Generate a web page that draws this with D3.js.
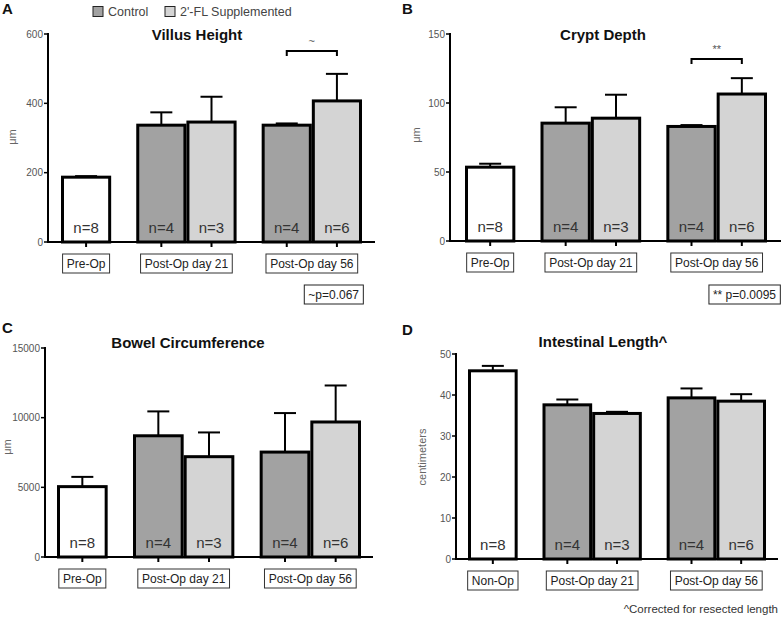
<!DOCTYPE html>
<html><head><meta charset="utf-8">
<script src="https://cdn.jsdelivr.net/npm/d3@7"></script>
<style>body{margin:0;background:#fff}svg{display:block;font-family:"Liberation Sans",Arial,sans-serif}</style>
</head><body><svg id="c" width="781" height="617"></svg>
<script>
const groupsPre = ["Pre-Op", "Post-Op day 21", "Post-Op day 56"];
const groupsNon = ["Non-Op", "Post-Op day 21", "Post-Op day 56"];
const legendLabels = ["Control", "2'-FL Supplemented"];
const barSeries = ["baseline", "control", "fl", "control", "fl"];
const barGroup = [0, 1, 1, 2, 2];
const nLabels = ["n=8", "n=4", "n=3", "n=4", "n=6"];

const villusMean = [187, 337, 346, 337, 407];
const villusSem = [3, 37, 73, 5, 78];
const villusTicks = [0, 200, 400, 600];

const cryptMean = [53.5, 85.4, 89, 83, 106.5];
const cryptSem = [2.5, 11.5, 17, 1, 11.5];
const cryptTicks = [0, 50, 100, 150];

const circMean = [5050, 8700, 7200, 7530, 9690];
const circSem = [700, 1750, 1740, 2800, 2620];
const circTicks = [0, 5000, 10000, 15000];

const lengthMean = [45.9, 37.6, 35.5, 39.3, 38.5];
const lengthSem = [1.2, 1.3, 0.4, 2.3, 1.7];
const lengthTicks = [0, 10, 20, 30, 40, 50];

const colors = {baseline: "#ffffff", control: "#a2a2a2", fl: "#d4d4d4"};
const slotStart = [0, 1.5, 2.5, 4, 5];

const svg = d3.select("#c");

function panel(o) {
  const g = svg.append("g");
  const y = d3.scaleLinear().domain([0, o.max]).range([o.y0, o.yTop]);
  const x = d3.scaleLinear().domain([0, 6]).range([o.bx0, o.bx1]);
  const unit = x(1) - x(0);
  // y axis
  g.append("line").attr("x1", o.ax).attr("x2", o.ax).attr("y1", y(o.max) - 1).attr("y2", o.y0 + 1)
    .attr("stroke", "#000").attr("stroke-width", 2);
  o.ticks.forEach(t => {
    g.append("line").attr("x1", o.ax - 4).attr("x2", o.ax).attr("y1", y(t)).attr("y2", y(t)).attr("stroke", "#000").attr("stroke-width", 1.5);
    g.append("text").attr("x", o.ax - 5).attr("y", y(t) + 3.5).attr("text-anchor", "end")
      .attr("font-size", 10).attr("fill", "#555").text(t);
  });
  // y label
  g.append("text").attr("transform", `translate(${o.ylx},${o.yly}) rotate(-90)`).attr("text-anchor", "middle")
    .attr("font-size", 11).attr("fill", "#666").text(o.ylabel);
  // bars
  o.mean.forEach((m, i) => {
    const cx = x(slotStart[i] + 0.5);
    g.append("line").attr("x1", cx).attr("x2", cx).attr("y1", y(m)).attr("y2", y(m + o.sem[i])).attr("stroke", "#000").attr("stroke-width", 2);
    g.append("line").attr("x1", cx - 11).attr("x2", cx + 11).attr("y1", y(m + o.sem[i])).attr("y2", y(m + o.sem[i])).attr("stroke", "#000").attr("stroke-width", 2);
  });
  o.mean.forEach((m, i) => {
    g.append("rect").attr("x", x(slotStart[i]) + 1.5).attr("width", unit - 3)
      .attr("y", y(m)).attr("height", y(0) - y(m))
      .attr("fill", colors[barSeries[i]]).attr("stroke", "#000").attr("stroke-width", 3);
    g.append("text").attr("x", x(slotStart[i] + 0.5)).attr("y", o.y0 - 9).attr("text-anchor", "middle")
      .attr("font-size", 15).attr("fill", "#333").text(nLabels[i]);
  });
  // x axis
  g.append("line").attr("x1", o.ax - 1).attr("x2", o.axEnd).attr("y1", o.y0).attr("y2", o.y0).attr("stroke", "#000").attr("stroke-width", 2);
  o.mean.forEach((m, i) => {
    const cx = x(slotStart[i] + 0.5);
    g.append("line").attr("x1", cx).attr("x2", cx).attr("y1", o.y0).attr("y2", o.y0 + 5).attr("stroke", "#000").attr("stroke-width", 2);
  });
  // group labels
  o.groups.forEach((lab, gi) => {
    const idx = barGroup.map((b, i) => b === gi ? i : -1).filter(i => i >= 0);
    const left = x(slotStart[idx[0]]), right = x(slotStart[idx[idx.length - 1]] + 1);
    const cx = (left + right) / 2;
    const t = g.append("text").attr("x", cx).attr("y", o.y0 + 26).attr("text-anchor", "middle")
      .attr("font-size", 12).attr("fill", "#222").text(lab);
    const bb = t.node().getBBox();
    g.insert("rect", "text:last-child").attr("x", cx - bb.width / 2 - 4).attr("y", o.y0 + 12).attr("width", bb.width + 8).attr("height", 19)
      .attr("fill", "#fff").attr("stroke", "#333").attr("stroke-width", 1);
    t.raise();
  });
  // title
  g.append("text").attr("x", o.tx).attr("y", o.ty).attr("text-anchor", "middle").attr("font-size", 15)
    .attr("font-weight", "bold").attr("fill", "#111").text(o.title);
  g.append("text").attr("x", o.lx).attr("y", o.ly).attr("font-size", 15).attr("font-weight", "bold").attr("fill", "#111").text(o.letter);
  // significance
  if (o.sig) {
    const x1 = x(slotStart[3] + 0.5), x2 = x(slotStart[4] + 0.5), sy = o.sig.y;
    g.append("path").attr("d", `M${x1},${sy + 5}V${sy}H${x2}V${sy + 5}`).attr("fill", "none").attr("stroke", "#000").attr("stroke-width", 2);
    g.append("text").attr("x", (x1 + x2) / 2).attr("y", sy - 6).attr("text-anchor", "middle").attr("font-size", 11).attr("fill", "#555").text(o.sig.mark);
    const pt = g.append("text").attr("x", o.sig.px).attr("y", o.sig.py).attr("text-anchor", "end").attr("font-size", 12).attr("fill", "#222").text(o.sig.ptext);
    const bb = pt.node().getBBox();
    g.insert("rect", "text:last-child").attr("x", bb.x - 4).attr("y", o.sig.py - 14).attr("width", bb.width + 8).attr("height", 19)
      .attr("fill", "#fff").attr("stroke", "#222").attr("stroke-width", 1);
    pt.raise();
  }
  return g;
}

panel({letter: "A", lx: 2, ly: 14, title: "Villus Height", tx: 197, ty: 40, mean: villusMean, sem: villusSem, max: 600, ticks: villusTicks,
  y0: 242, yTop: 34, ax: 48, axEnd: 375, bx0: 61, bx1: 362, groups: groupsPre, ylabel: "μm", ylx: 16, yly: 137,
  sig: {y: 51, mark: "~", ptext: "~p=0.067", px: 359, py: 299}});
panel({letter: "B", lx: 402, ly: 14, title: "Crypt Depth", tx: 603, ty: 40, mean: cryptMean, sem: cryptSem, max: 150, ticks: cryptTicks,
  y0: 241, yTop: 34, ax: 450, axEnd: 781, bx0: 465, bx1: 767, groups: groupsPre, ylabel: "μm", ylx: 420, yly: 135,
  sig: {y: 59, mark: "**", ptext: "** p=0.0095", px: 776, py: 299}});
panel({letter: "C", lx: 2, ly: 333, title: "Bowel Circumference", tx: 188, ty: 348, mean: circMean, sem: circSem, max: 15000, ticks: circTicks,
  y0: 557, yTop: 348, ax: 45, axEnd: 373, bx0: 57, bx1: 361, groups: groupsPre, ylabel: "μm", ylx: 11, yly: 447});
panel({letter: "D", lx: 402, ly: 335, title: "Intestinal Length^", tx: 603, ty: 347, mean: lengthMean, sem: lengthSem, max: 50, ticks: lengthTicks,
  y0: 559, yTop: 354, ax: 456, axEnd: 778, bx0: 468, bx1: 766, groups: groupsNon, ylabel: "centimeters", ylx: 426, yly: 457});

// legend
const leg = svg.append("g");
[{c: colors.control, x: 93, tx: 108}, {c: colors.fl, x: 165, tx: 180}].forEach((d, i) => {
  leg.append("rect").attr("x", d.x).attr("y", 6.5).attr("width", 10).attr("height", 10).attr("fill", d.c).attr("stroke", "#222").attr("stroke-width", 1);
  leg.append("text").attr("x", d.tx).attr("y", 16).attr("font-size", 12.5).attr("fill", "#444").text(legendLabels[i]);
});
svg.append("text").attr("x", 778).attr("y", 613).attr("text-anchor", "end").attr("font-size", 11.5).attr("fill", "#333").text("^Corrected for resected length");
</script></body></html>
